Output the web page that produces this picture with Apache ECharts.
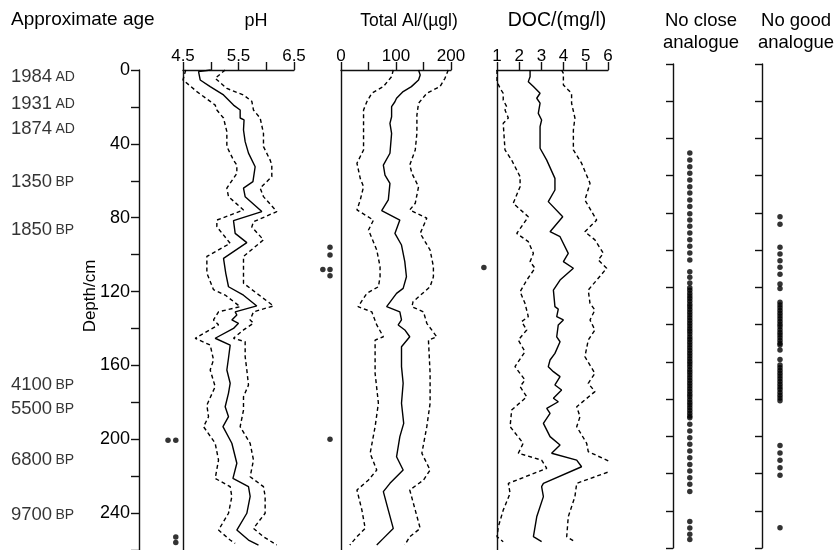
<!DOCTYPE html>
<html>
<head>
<meta charset="utf-8">
<script src="https://cdn.jsdelivr.net/npm/echarts@6/dist/echarts.min.js"></script>
<style>
  html, body { margin: 0; padding: 0; background: #fff; }
  #chart { width: 839px; height: 550px; }
</style>
</head>
<body>
<div id="chart"></div>
<script>
// Approximate ages marked against core depth (cm)
const ageYears  = ['1984', '1931', '1874', '1350', '1850', '4100', '5500', '6800', '9700'];
const ageEras   = ['AD', 'AD', 'AD', 'BP', 'BP', 'BP', 'BP', 'BP', 'BP'];
const ageDepths = [3.8, 18.4, 31.9, 60.5, 86.5, 170.8, 183.8, 211.4, 241];

// Depth axis tick labels
const depthTicks = [0, 40, 80, 120, 160, 200, 240];

// Reconstructed pH: [value, depth]
const phMean = [[5.0,0],[4.78,0.9],[4.81,5.4],[4.99,9],[5.23,13.5],[5.41,19],[5.53,21.7],[5.53,26],[5.60,27],[5.59,32.5],[5.62,38.8],[5.68,45],[5.80,52.4],[5.76,60.5],[5.59,64],[5.62,68.6],[5.92,76.7],[5.41,81.6],[5.44,88.5],[5.65,93.5],[5.23,102],[5.27,110],[5.32,117.4],[5.59,122],[5.83,127.8],[5.44,131],[5.47,132.7],[5.38,135.4],[5.50,137.2],[5.41,140],[5.08,145.3],[5.35,149],[5.32,156],[5.29,162.5],[5.35,169.7],[5.32,175],[5.26,182.4],[5.32,187.8],[5.22,193.2],[5.38,202.2],[5.47,213],[5.40,221.2],[5.68,225.7],[5.71,231],[5.65,240.1],[5.47,249.2],[5.68,254.6],[5.86,257.3]];
const phLow = [[4.55,0],[4.52,3],[4.5,5.4],[4.75,11.7],[4.99,17],[5.08,19],[5.11,21.7],[5.23,26],[5.29,33.4],[5.29,41.5],[5.41,48.8],[5.47,51.5],[5.47,56],[5.29,64],[5.32,68.6],[5.59,75.8],[5.11,81.3],[5.11,84.9],[5.35,93.9],[4.93,101],[4.93,110],[5.05,119],[5.26,121.9],[5.53,128.2],[5.14,131],[5.05,135.4],[5.14,138],[4.72,145.3],[4.99,149],[5.05,157],[4.99,162.5],[5.08,171.5],[4.93,181.5],[4.96,187.8],[4.87,193.2],[5.08,202.2],[5.14,211.3],[5.08,221.2],[5.35,225.7],[5.38,231.1],[5.32,240.1],[5.14,249.2],[5.35,254.6],[5.44,256.4]];
const phHigh = [[5.26,0],[5.08,4.5],[5.29,10],[5.59,13.5],[5.74,17],[5.77,21.7],[5.89,26],[5.95,34.3],[5.95,41.5],[6.07,48.8],[6.10,51.5],[6.10,57.8],[5.89,64],[5.95,68.6],[6.19,76.7],[5.77,82.2],[5.74,85],[5.95,92],[5.59,101],[5.59,115.5],[5.83,121],[6.13,127.8],[5.77,131],[5.71,135.4],[5.77,137.2],[5.59,140.8],[5.41,145.3],[5.62,147.2],[5.62,155.3],[5.65,162.5],[5.68,170.6],[5.59,177],[5.59,184.2],[5.53,193.2],[5.71,202.2],[5.77,211.3],[5.71,220.3],[5.95,225.7],[5.98,231],[5.98,240.1],[5.77,248.3],[5.95,252.8],[6.19,257.3]];

// Reconstructed total aluminium (µg/l): [value, depth]
const alMean = [[141,0],[144,2.7],[141,5.4],[128,9],[113,11.7],[101,15.3],[98,17.2],[92,19.9],[92,25.3],[89,28.9],[92,34.3],[89,45.1],[77,51.5],[80,56.9],[89,61.4],[86,70.4],[74,76.2],[107,81.3],[98,88.5],[110,94.8],[116,103.8],[119,112],[113,118.3],[101,121],[83,128.2],[107,131],[110,135.4],[104,138.1],[116,140.8],[125,144.5],[110,149.9],[110,160.7],[113,169.7],[110,180.5],[114,191.4],[107,198.6],[101,209.5],[113,216.7],[89,223.9],[77,228.4],[86,238.4],[95,248.3],[77,253.7],[65,257.3]];
const alLow = [[95,0],[92,3.6],[77,9],[56,12.6],[47,17.2],[41,21.7],[41,30.7],[41,43.3],[29,50.5],[35,58.7],[41,63.2],[35,70.4],[29,75.8],[59,81.3],[50,86.7],[65,97.5],[71,106.5],[71,112],[68,117.4],[47,121],[31,128.2],[56,131],[65,138.1],[77,144.5],[62,146.3],[62,164.3],[68,180.5],[62,193.2],[53,207.6],[65,216.7],[50,222.1],[29,227.5],[38,238.4],[44,248.3],[29,252.8],[16,257.3]];
const alHigh = [[195,0],[189,4.5],[180,9],[156,12.6],[141,18],[138,24.4],[138,34.3],[135,43.3],[125,51.5],[129,56],[141,63.2],[135,72.2],[125,75.8],[156,80.3],[144,88.5],[162,97.5],[168,106.5],[168,112],[162,117.4],[131,125.5],[129,128.2],[150,131],[156,137.2],[174,144.5],[159,146.3],[162,164.3],[162,180.5],[156,193.2],[147,207.6],[162,216.7],[150,222.1],[125,227.5],[135,238.4],[144,248.3],[125,252.8],[116,257.3]];

// Reconstructed dissolved organic carbon (mg/l): [value, depth]
const docMean = [[2.49,0],[2.41,0.9],[2.49,3.6],[2.41,6.3],[2.64,9],[2.94,12.6],[2.79,15.3],[2.94,18],[2.86,23.5],[3.01,27.1],[2.94,30.7],[2.94,42.4],[3.24,48.8],[3.61,58.7],[3.61,65],[3.31,71.3],[3.96,79.5],[3.39,87.6],[3.84,90.3],[4.21,99.3],[3.99,103.8],[4.44,107.4],[3.84,113.8],[3.54,119.2],[3.61,128.2],[3.76,129.5],[3.69,133.6],[3.99,135.4],[3.76,138.1],[3.69,144.5],[3.84,147.2],[3.61,153.5],[3.39,157.1],[3.31,160.7],[3.54,163.4],[3.84,166.1],[3.61,170.6],[3.91,173.3],[3.54,177.8],[3.76,179.7],[3.24,183.3],[3.39,186],[3.09,191.4],[3.39,198.6],[3.84,203.1],[3.46,207.6],[4.59,211.3],[4.81,214.9],[3.09,223.9],[3.01,225.7],[3.09,231.1],[2.79,242],[2.64,252.8],[3.01,255.5]];
const docLow = [[1.0,0],[1.0,1.5],[1.0,6.3],[1.14,9.9],[1.28,12.6],[1.28,16.3],[1.44,19.9],[1.36,21.7],[1.51,26],[1.28,28.9],[1.36,43.3],[1.66,48.8],[2.04,57.8],[2.04,63.2],[1.73,72.2],[2.41,79.5],[1.89,88.5],[2.41,93],[2.64,99.3],[2.49,103.8],[2.71,107.4],[2.34,113.8],[2.04,120.1],[2.26,126.4],[2.41,133.6],[2.11,136.3],[2.34,140.8],[1.96,146.3],[2.26,152.6],[1.81,160.7],[2.26,167.9],[2.04,171.5],[2.34,177],[1.66,184.2],[1.59,193.2],[2.18,202.2],[1.96,207.6],[3.01,211.3],[3.24,215.8],[1.51,223.9],[1.59,229.3],[1.28,238.4],[1.06,247.4],[1.0,252.8],[1.28,255.5]];
const docHigh = [[3.91,0],[3.99,1.8],[3.99,8.1],[4.21,10.8],[4.36,12.6],[4.36,18],[4.51,26],[4.44,32.5],[4.44,43.3],[4.81,50.5],[5.19,61.4],[4.96,70.4],[5.49,81.3],[4.96,87.6],[5.41,92],[5.79,99.3],[5.56,102.9],[5.94,107.4],[5.49,113.8],[5.11,119.2],[5.19,126.4],[5.41,130],[5.19,135.4],[5.41,140.8],[5.11,146.3],[4.96,155.3],[5.41,164.3],[5.11,169.7],[5.41,174.2],[4.59,182.4],[4.74,187.8],[4.59,193.2],[5.04,202.2],[5.11,206.7],[6.24,213],[6.46,215.8],[4.59,223.9],[4.51,231.1],[4.21,242],[4.14,252.8],[4.51,255.5]];

// Samples flagged beside each profile: [value, depth]
const phFlags  = [[4.23,200.5],[4.37,200.5],[4.37,253],[4.37,256]];
const alFlags  = [[-20,96],[-20,100.2],[-33,108.1],[-20,108.1],[-20,111.4],[-20,200]];
const docFlags = [[0.41,107]];

// Samples lacking close / good modern analogues (depth on analogue scale)
const noCloseDepths = [47.8,51.6,55.2,58.7,62.3,65.9,69.3,73.0,76.6,80.4,83.8,87.2,90.8,94.4,97.9,101.5,105.3,111.6,114.6,117.6,
  120.2,121.6,123.1,124.6,126.0,127.5,129.0,130.4,131.9,133.4,134.8,136.3,137.8,139.2,140.7,142.2,143.6,145.1,146.6,148.0,149.5,151.0,152.4,153.9,155.4,156.8,158.3,159.8,161.2,162.7,164.2,165.6,167.1,168.6,170.0,171.5,173.0,174.4,175.9,177.4,178.8,180.3,181.8,183.2,184.7,186.2,187.6,189.1,190.0,
  193.5,197.2,200.8,204.3,207.9,211.5,215.1,218.6,222.2,225.8,229.6,245.8,249.3,252.6,255.5];
const noGoodDepths = [82.0,86.1,98.5,102.1,105.7,109.2,113.0,118.2,120.6,
  128.0,129.5,131.0,132.4,133.9,135.4,136.8,138.3,139.8,141.2,142.7,144.2,145.6,147.1,148.6,150.0,151.0,153.6,158.7,
  161.7,163.2,164.7,166.1,167.6,169.1,170.5,172.0,173.5,174.9,176.4,177.9,179.4,180.9,
  205.0,209.0,212.9,216.9,220.9,249.1];

const FONT = "'Liberation Sans', Arial, Helvetica, sans-serif";
const INK = '#111';
const TOP = 70, H = 481;

const chart = echarts.init(document.getElementById('chart'), null, { renderer: 'canvas' });

function depthAxis(grid, extra) {
  return Object.assign({
    gridIndex: grid, type: 'value', inverse: true, min: 0, max: 260,
    axisLine: { show: true, lineStyle: { color: INK, width: 1.4 } },
    axisTick: { show: false }, axisLabel: { show: false }, splitLine: { show: false }
  }, extra || {});
}
function topAxis(grid, min, max, interval, fmt) {
  return {
    gridIndex: grid, type: 'value', position: 'top', min: min, max: max, interval: interval,
    axisLine: { show: true, lineStyle: { color: INK, width: 1.4 } },
    axisTick: { show: true, length: 8, lineStyle: { color: INK, width: 1.4 } },
    axisLabel: { show: true, margin: 5, color: '#000', fontFamily: FONT, fontSize: 17, formatter: fmt },
    splitLine: { show: false }
  };
}
function hiddenX(grid) {
  return { gridIndex: grid, type: 'value', min: 0, max: 1, show: false };
}
function profile(axis, data, dashed) {
  return {
    type: 'line', xAxisIndex: axis, yAxisIndex: axis, data: data,
    showSymbol: false, symbol: 'none', clip: false, silent: true,
    lineStyle: { color: '#000', width: 1.4, type: dashed ? [4, 3] : 'solid' }
  };
}
function dots(axis, data, size) {
  return {
    type: 'scatter', xAxisIndex: axis, yAxisIndex: axis, data: data,
    symbol: 'circle', symbolSize: size || 5.5, clip: false, silent: true,
    itemStyle: { color: '#000' }
  };
}

const ageData = ageYears.map((y, i) => ({ value: [0, ageDepths[i]], name: y, era: ageEras[i] }));

const option = {
  backgroundColor: '#fff',
  animation: false,
  grid: [
    { left: 11, top: TOP, width: 60, height: H },
    { left: 139, top: TOP, width: 10, height: H },
    { left: 183, top: TOP, width: 111, height: H },
    { left: 341, top: TOP, width: 110, height: H },
    { left: 497, top: TOP, width: 111, height: H },
    { left: 673, top: 64, width: 40, height: 484 },
    { left: 762, top: 64, width: 40, height: 484 }
  ],
  xAxis: [
    hiddenX(0),
    hiddenX(1),
    topAxis(2, 4.5, 6.5, 0.5, v => ([4.5, 5.5, 6.5].indexOf(Math.round(v * 10) / 10) >= 0 ? String(v) : '')),
    topAxis(3, 0, 200, 50, v => (v % 100 === 0 ? String(v) : '')),
    topAxis(4, 1, 6, 1, v => String(v)),
    hiddenX(5),
    hiddenX(6)
  ],
  yAxis: [
    { gridIndex: 0, type: 'value', inverse: true, min: 0, max: 260, show: false },
    depthAxis(1, {
      interval: 20,
      axisTick: { show: true, length: 8, lineStyle: { color: INK, width: 1.4 } },
      axisLabel: { show: true, margin: 9, color: '#000', fontFamily: FONT, fontSize: 18,
        formatter: v => (depthTicks.indexOf(v) >= 0 ? String(v) : '') }
    }),
    depthAxis(2),
    depthAxis(3),
    depthAxis(4),
    depthAxis(5, { interval: 20, axisTick: { show: true, length: 7, lineStyle: { color: INK, width: 1.4 } } }),
    depthAxis(6, { interval: 20, axisTick: { show: true, length: 7, lineStyle: { color: INK, width: 1.4 } } })
  ],
  series: [
    {
      type: 'scatter', xAxisIndex: 0, yAxisIndex: 0, data: ageData, symbolSize: 0, silent: true,
      label: {
        show: true, position: 'right', distance: 0, color: '#000', fontFamily: FONT,
        formatter: p => '{n|' + p.name + '} {s|' + p.data.era + '}',
        rich: { n: { fontSize: 18.5, fontFamily: FONT, color: '#000' }, s: { fontSize: 14, fontFamily: FONT, color: '#000' } }
      }
    },
    profile(2, phLow, true), profile(2, phMean, false), profile(2, phHigh, true),
    profile(3, alLow, true), profile(3, alMean, false), profile(3, alHigh, true),
    profile(4, docLow, true), profile(4, docMean, false), profile(4, docHigh, true),
    dots(2, phFlags), dots(3, alFlags), dots(4, docFlags),
    dots(5, noCloseDepths.map(d => [0.42, d])),
    dots(6, noGoodDepths.map(d => [0.45, d]))
  ],
  graphic: [
    { type: 'text', left: 11, top: 10, style: { text: 'Approximate age', font: '19px ' + FONT, fill: '#000' } },
    { type: 'text', x: 256, y: 21, style: { text: 'pH', font: '18px ' + FONT, fill: '#000', align: 'center', verticalAlign: 'middle' } },
    { type: 'text', x: 409, y: 21, style: { text: 'Total Al/(µgl)', font: '17.5px ' + FONT, fill: '#000', align: 'center', verticalAlign: 'middle' } },
    { type: 'text', x: 557, y: 21, style: { text: 'DOC/(mg/l)', font: '19.5px ' + FONT, fill: '#000', align: 'center', verticalAlign: 'middle' } },
    { type: 'text', x: 701, y: 10, style: { text: 'No close\nanalogue', font: '18.5px ' + FONT, lineHeight: 22, fill: '#000', align: 'center', verticalAlign: 'top' } },
    { type: 'text', x: 796, y: 10, style: { text: 'No good\nanalogue', font: '18.5px ' + FONT, lineHeight: 22, fill: '#000', align: 'center', verticalAlign: 'top' } },
    { type: 'text', x: 90, y: 296, rotation: Math.PI / 2, style: { text: 'Depth/cm', font: '17px ' + FONT, fill: '#000', align: 'center', verticalAlign: 'middle' } }
  ]
};

chart.setOption(option);
</script>
</body>
</html>
